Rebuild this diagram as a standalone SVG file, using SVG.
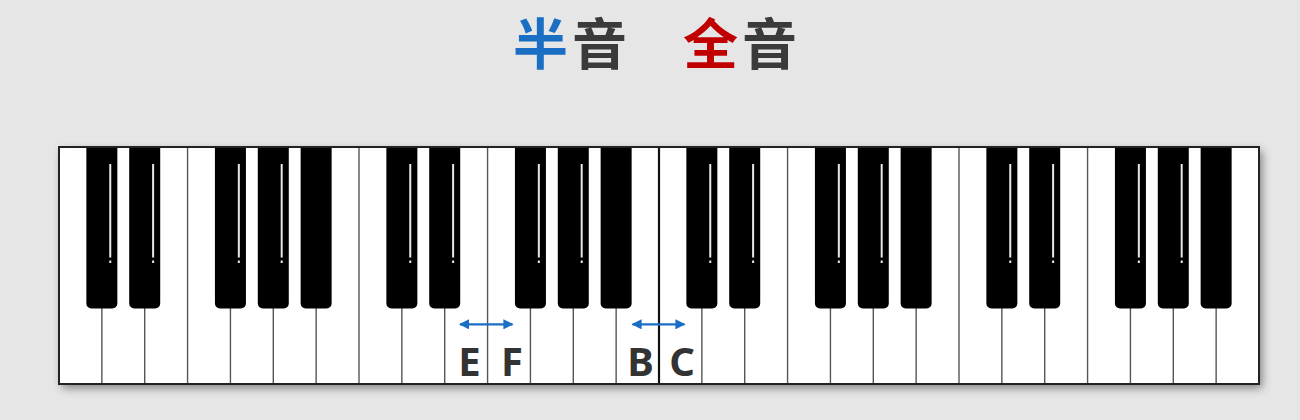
<svg xmlns="http://www.w3.org/2000/svg" xmlns:xlink="http://www.w3.org/1999/xlink" width="1300" height="420" viewBox="0 0 1300 420">
  <style>
    .title{font-family:"Noto Sans CJK SC","Noto Sans CJK JP",sans-serif;font-size:55px;font-weight:700}
    .note{font-family:"Noto Sans","Open Sans","Liberation Sans",sans-serif;font-size:40px;font-weight:700;fill:#333;text-anchor:middle}
    .div{stroke:#555;stroke-width:1.4}
    .arrow{stroke:#1a6fc4;stroke-width:2.2;fill:none;marker-start:url(#ah);marker-end:url(#ah)}
  </style>
  <defs>
    <filter id="sh" x="-5%" y="-10%" width="110%" height="125%">
      <feDropShadow dx="3" dy="4" stdDeviation="5" flood-color="#000" flood-opacity="0.45"/>
    </filter>
    <marker id="ah" viewBox="0 0 10 10" refX="9" refY="5" markerWidth="4.6" markerHeight="4.6" orient="auto-start-reverse">
      <path d="M0,0 L10,5 L0,10 z" fill="#1a6fc4"/>
    </marker>
    <g id="bk">
      <path d="M-15.5,147 h31 v156.5 a5,5 0 0 1 -5,5 h-21 a5,5 0 0 1 -5,-5 z" fill="#000"/>
    </g>
    <g id="bkh">
      <path d="M-15.5,147 h31 v156.5 a5,5 0 0 1 -5,5 h-21 a5,5 0 0 1 -5,-5 z" fill="#000"/>
      <rect x="7.4" y="164" width="2" height="93.5" fill="#e8e8e8"/>
      <rect x="7.4" y="260.5" width="2" height="2.5" fill="#e8e8e8"/>
    </g>
  </defs>
  <rect width="1300" height="420" fill="#e6e6e6"/>

  <g id="title">
    <text class="title" x="513" y="64" letter-spacing="4"><tspan fill="#1a6fc4">半</tspan><tspan fill="#3a3a3a">音</tspan></text>
    <text class="title" x="683" y="64" letter-spacing="4"><tspan fill="#c00000">全</tspan><tspan fill="#3a3a3a">音</tspan></text>
  </g>

  <g id="keyboard">
    <rect id="white-keys" x="59" y="147" width="1200" height="237" fill="#fff" filter="url(#sh)"/>
    <g id="dividers" class="div">
      <line x1="101.86" y1="147" x2="101.86" y2="384"/>
      <line x1="144.71" y1="147" x2="144.71" y2="384"/>
      <line x1="187.57" y1="147" x2="187.57" y2="384"/>
      <line x1="230.43" y1="147" x2="230.43" y2="384"/>
      <line x1="273.29" y1="147" x2="273.29" y2="384"/>
      <line x1="316.14" y1="147" x2="316.14" y2="384"/>
      <line x1="359" y1="147" x2="359" y2="384"/>
      <line x1="401.86" y1="147" x2="401.86" y2="384"/>
      <line x1="444.71" y1="147" x2="444.71" y2="384"/>
      <line x1="487.57" y1="147" x2="487.57" y2="384"/>
      <line x1="530.43" y1="147" x2="530.43" y2="384"/>
      <line x1="573.29" y1="147" x2="573.29" y2="384"/>
      <line x1="616.14" y1="147" x2="616.14" y2="384"/>
      <line x1="701.86" y1="147" x2="701.86" y2="384"/>
      <line x1="744.71" y1="147" x2="744.71" y2="384"/>
      <line x1="787.57" y1="147" x2="787.57" y2="384"/>
      <line x1="830.43" y1="147" x2="830.43" y2="384"/>
      <line x1="873.29" y1="147" x2="873.29" y2="384"/>
      <line x1="916.14" y1="147" x2="916.14" y2="384"/>
      <line x1="959" y1="147" x2="959" y2="384"/>
      <line x1="1001.86" y1="147" x2="1001.86" y2="384"/>
      <line x1="1044.71" y1="147" x2="1044.71" y2="384"/>
      <line x1="1087.57" y1="147" x2="1087.57" y2="384"/>
      <line x1="1130.43" y1="147" x2="1130.43" y2="384"/>
      <line x1="1173.29" y1="147" x2="1173.29" y2="384"/>
      <line x1="1216.14" y1="147" x2="1216.14" y2="384"/>
      <line x1="659" y1="147" x2="659" y2="384" stroke="#111" stroke-width="2.2"/>
    </g>
    <g id="black-keys">
      <use xlink:href="#bkh" transform="translate(101.86,0)"/>
      <use xlink:href="#bkh" transform="translate(144.71,0)"/>
      <use xlink:href="#bkh" transform="translate(230.43,0)"/>
      <use xlink:href="#bkh" transform="translate(273.29,0)"/>
      <use xlink:href="#bk" transform="translate(316.14,0)"/>
      <use xlink:href="#bkh" transform="translate(401.86,0)"/>
      <use xlink:href="#bkh" transform="translate(444.71,0)"/>
      <use xlink:href="#bkh" transform="translate(530.43,0)"/>
      <use xlink:href="#bkh" transform="translate(573.29,0)"/>
      <use xlink:href="#bk" transform="translate(616.14,0)"/>
      <use xlink:href="#bkh" transform="translate(701.86,0)"/>
      <use xlink:href="#bkh" transform="translate(744.71,0)"/>
      <use xlink:href="#bkh" transform="translate(830.43,0)"/>
      <use xlink:href="#bkh" transform="translate(873.29,0)"/>
      <use xlink:href="#bk" transform="translate(916.14,0)"/>
      <use xlink:href="#bkh" transform="translate(1001.86,0)"/>
      <use xlink:href="#bkh" transform="translate(1044.71,0)"/>
      <use xlink:href="#bkh" transform="translate(1130.43,0)"/>
      <use xlink:href="#bkh" transform="translate(1173.29,0)"/>
      <use xlink:href="#bk" transform="translate(1216.14,0)"/>
    </g>
    <rect id="frame" x="59" y="147" width="1200" height="237" fill="none" stroke="#222" stroke-width="2"/>
  </g>

  <g id="connectors">
    <line class="arrow" x1="460" y1="324.3" x2="512.5" y2="324.3"/>
    <line class="arrow" x1="632.5" y1="324.3" x2="684.5" y2="324.3"/>
  </g>

  <g id="labels">
    <text class="note" x="469.5" y="376">E</text>
    <text class="note" x="512" y="376">F</text>
    <text class="note" x="640.5" y="376">B</text>
    <text class="note" x="682" y="376">C</text>
  </g>
</svg>
